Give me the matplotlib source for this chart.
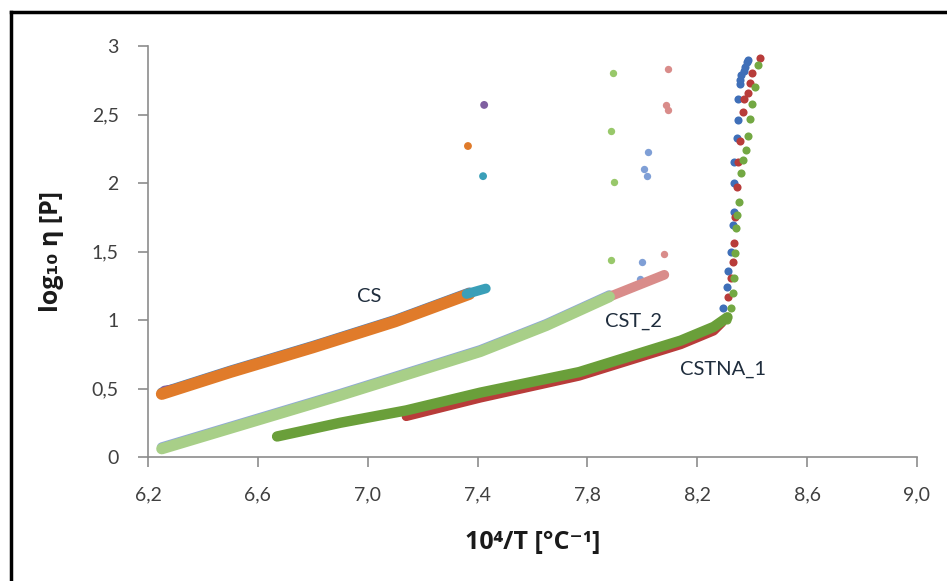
import matplotlib.pyplot as plt
from matplotlib.lines import Line2D

plt.rcParams['font.family'] = ['Lato', 'DejaVu Sans']

# --- data ---
# CS: dense band, with few outliers
cs_x = [6.25, 6.5, 6.8, 7.1, 7.37]
cs_y = [0.46, 0.62, 0.80, 0.99, 1.19]
cs_end_x = [7.36, 7.43]
cs_end_y = [1.19, 1.23]
cs_start_x = [6.26, 6.31]
cs_start_y = [0.485, 0.50]
cs_out_x = [7.424, 7.365, 7.42]
cs_out_y = [2.57, 2.27, 2.05]
cs_out_c = ['#7f5fa0', '#e07b2a', '#3a9fb8']

# CST_2
cst_x = [6.25, 6.6, 6.9, 7.41, 7.65, 7.88]
cst_y = [0.06, 0.27, 0.45, 0.77, 0.96, 1.17]
cst_end_x = [7.88, 8.08]
cst_end_y = [1.17, 1.33]
cst_green_x = [7.893, 7.887, 7.895, 7.885]
cst_green_y = [2.80, 2.38, 2.01, 1.44]
cst_pink_x = [8.094, 8.087, 8.094, 8.08]
cst_pink_y = [2.83, 2.57, 2.53, 1.48]
cst_blue_x = [8.02, 8.007, 8.016, 8.0, 7.99]
cst_blue_y = [2.23, 2.10, 2.05, 1.42, 1.30]

# CSTNA_1
na_x = [6.67, 6.9, 7.14, 7.41, 7.77, 8.14, 8.26, 8.31]
na_y = [0.15, 0.25, 0.34, 0.47, 0.62, 0.85, 0.95, 1.02]
na_red_x = [7.14, 7.41, 7.77, 8.14, 8.26, 8.29]
na_red_y = [0.295, 0.43, 0.59, 0.82, 0.92, 0.98]
na_blue_x = [8.294, 8.309, 8.312, 8.323, 8.330, 8.332, 8.334, 8.334, 8.345,
             8.349, 8.349, 8.356, 8.356, 8.36, 8.37, 8.375, 8.38, 8.385]
na_blue_y = [1.09, 1.24, 1.36, 1.50, 1.69, 1.79, 2.00, 2.15, 2.33,
             2.46, 2.61, 2.72, 2.75, 2.79, 2.82, 2.85, 2.88, 2.90]
na_red2_x = [8.294, 8.312, 8.323, 8.33, 8.333, 8.337, 8.345, 8.349, 8.356,
             8.367, 8.371, 8.385, 8.393, 8.40, 8.43]
na_red2_y = [1.0, 1.17, 1.31, 1.42, 1.56, 1.75, 1.97, 2.15, 2.31,
             2.52, 2.61, 2.66, 2.73, 2.80, 2.91]
na_green_x = [8.309, 8.323, 8.33, 8.334, 8.338, 8.342, 8.345, 8.353, 8.36,
              8.367, 8.378, 8.385, 8.393, 8.40, 8.41, 8.42]
na_green_y = [1.0, 1.09, 1.20, 1.31, 1.49, 1.67, 1.77, 1.86, 2.07,
              2.17, 2.24, 2.34, 2.47, 2.58, 2.70, 2.86]

xticks = [6.2, 6.6, 7.0, 7.4, 7.8, 8.2, 8.6, 9.0]
xlabels = ['6,2', '6,6', '7,0', '7,4', '7,8', '8,2', '8,6', '9,0']
yticks = [0, 0.5, 1, 1.5, 2, 2.5, 3]
ylabels = ['0', '0,5', '1', '1,5', '2', '2,5', '3']

# --- plot ---
fig = plt.figure(figsize=(9.47, 5.81), dpi=100)
ax = fig.add_axes([0.1563, 0.2134, 0.8120, 0.7074])

band = dict(solid_capstyle='round', solid_joinstyle='round')
# CS
ax.plot(cs_x, [v + 0.012 for v in cs_y], color='#4f81bd', lw=7, **band)
ax.plot(cs_start_x, cs_start_y, color='#7f5fa0', lw=7, **band)
ax.plot(cs_x, cs_y, color='#e07b2a', lw=8.5, **band)
ax.plot(cs_end_x, cs_end_y, color='#3a9fb8', lw=7, **band)
ax.scatter(cs_out_x, cs_out_y, s=32, color=cs_out_c, lw=0)

# CST_2
ax.plot(cst_x, [v + 0.012 for v in cst_y], color='#8fa9d6', lw=7, **band)
ax.plot(cst_end_x, cst_end_y, color='#d98c8a', lw=7, **band)
ax.plot(cst_x, cst_y, color='#a8cf88', lw=8, **band)
ax.scatter(cst_green_x, cst_green_y, s=28, color='#98c86a', lw=0)
ax.scatter(cst_pink_x, cst_pink_y, s=28, color='#d98c8a', lw=0)
ax.scatter(cst_blue_x, cst_blue_y, s=28, color='#7f9fd6', lw=0)

# CSTNA_1
ax.plot(na_red_x, na_red_y, color='#b83c3a', lw=6.5, **band)
ax.plot(na_x, na_y, color='#6a9f3a', lw=7.5, **band)
ax.scatter(na_blue_x, na_blue_y, s=34, color='#3f6fb8', lw=0)
ax.scatter(na_red2_x, na_red2_y, s=34, color='#b83c3a', lw=0)
ax.scatter(na_green_x, na_green_y, s=34, color='#73a843', lw=0)

# labels on the curves
lab = dict(fontsize=14.5, color='#1f2d3d', ha='center', va='center')
ax.text(7.005, 1.175, 'CS', **lab)
ax.text(7.966, 0.993, 'CST_2', **lab)
ax.text(8.294, 0.642, 'CSTNA_1', **lab)

ax.set_xlim(6.2, 9.0)
ax.set_ylim(0, 3)
ax.set_xticks(xticks)
ax.set_xticklabels(xlabels)
ax.set_yticks(yticks)
ax.set_yticklabels(ylabels)
ax.tick_params(axis='both', direction='out', length=7, width=1.2,
               color='#8c8c8c', labelsize=14, labelcolor='#404040', pad=14)
for side in ['top', 'right']:
    ax.spines[side].set_visible(False)
for side in ['left', 'bottom']:
    ax.spines[side].set_color('#8c8c8c')
    ax.spines[side].set_linewidth(1.2)

title_font = ['Open Sans', 'DejaVu Sans']
ax.set_xlabel('10⁴/T [°C⁻¹]', fontsize=18, fontweight='bold',
              family=title_font, color='#1a1a1a', labelpad=19)
ax.set_ylabel('log₁₀ η [P]', fontsize=18, fontweight='bold',
              family=title_font, color='#1a1a1a', labelpad=20)

# frame around the picture (left and top visible)
fig.add_artist(Line2D([0.0111, 0.0111], [0, 0.9793], color='black', lw=2.5,
                      transform=fig.transFigure))
fig.add_artist(Line2D([0.0111, 1.0], [0.9793, 0.9793], color='black', lw=2.5,
                      transform=fig.transFigure))

fig.savefig('out.png', dpi=100)
